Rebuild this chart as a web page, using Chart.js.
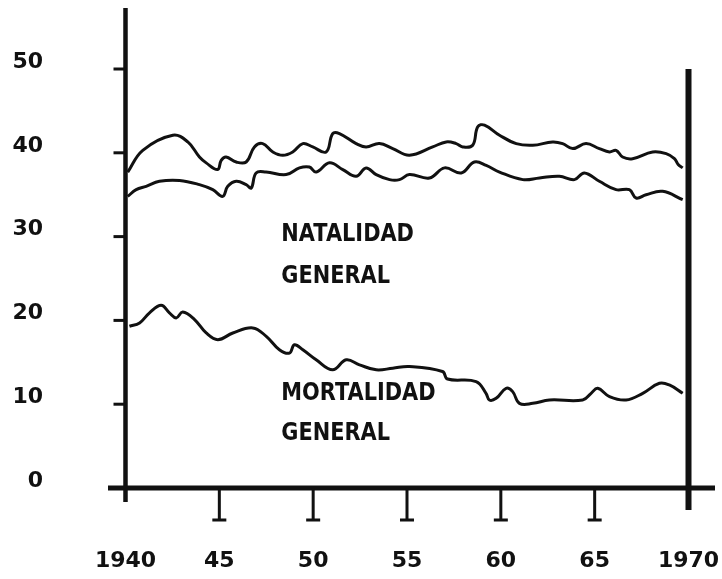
<!DOCTYPE html>
<html>
<head>
<meta charset="utf-8">
<script src="https://cdn.jsdelivr.net/npm/chart.js@4.4.1/dist/chart.umd.min.js"></script>
<style>
  html, body { margin: 0; padding: 0; background: #ffffff; }
  #wrap { width: 722px; height: 579px; }
</style>
</head>
<body>
<div id="wrap"><canvas id="c" width="722" height="579"></canvas></div>
<script>
// ---- data ----
const yTickValues = [0, 10, 20, 30, 40, 50];
const xTickYears = [1940, 1945, 1950, 1955, 1960, 1965, 1970];

const natalidadSupAnios = [1940.12,1940.92,1942.52,1943.32,1943.94,1944.30,1944.91,1945.10,1945.36,1945.90,1946.43,1946.87,1947.31,1947.85,1948.38,1948.91,1949.45,1949.98,1950.69,1951.04,1951.40,1952.29,1952.82,1953.53,1954.24,1955.13,1956.37,1957.09,1957.62,1957.97,1958.50,1958.77,1959.13,1959.93,1960.82,1961.70,1962.76,1963.29,1963.83,1964.54,1965.25,1965.79,1966.14,1966.49,1967.02,1968.09,1968.81,1969.25,1969.45,1969.69];
const natalidadSup = [37.7,40.3,42.1,41.3,39.5,38.8,38.0,39.1,39.5,38.9,38.9,40.7,41.1,40.1,39.7,40.1,41.1,40.7,40.1,42.3,42.3,41.1,40.7,41.1,40.5,39.7,40.7,41.3,41.1,40.7,40.9,43.1,43.3,42.1,41.1,40.9,41.3,41.1,40.5,41.1,40.5,40.1,40.3,39.5,39.3,40.1,39.9,39.3,38.6,38.2];

const natalidadInfAnios = [1940.12,1940.57,1941.10,1941.81,1942.88,1943.94,1944.65,1945.18,1945.45,1945.90,1946.43,1946.70,1946.96,1947.49,1948.56,1949.27,1949.80,1950.16,1950.87,1951.58,1952.29,1952.82,1953.36,1954.07,1954.60,1955.13,1956.20,1957.00,1957.89,1958.59,1959.22,1959.93,1961.17,1962.06,1963.12,1963.92,1964.45,1965.25,1966.14,1966.85,1967.21,1967.74,1968.62,1969.69];
const natalidadInf = [34.8,35.6,36.0,36.6,36.7,36.2,35.6,34.8,36.0,36.6,36.2,35.8,37.6,37.7,37.4,38.2,38.3,37.7,38.8,38.0,37.2,38.2,37.4,36.8,36.8,37.4,37.0,38.2,37.6,38.9,38.5,37.7,36.8,37.0,37.2,36.8,37.6,36.6,35.6,35.6,34.6,35.0,35.4,34.4];

const mortalidadAnios = [1940.21,1940.75,1941.28,1941.90,1942.34,1942.70,1943.05,1943.68,1944.30,1944.92,1945.72,1946.78,1947.50,1948.20,1948.74,1949.00,1949.45,1950.16,1951.04,1951.76,1952.47,1953.36,1954.24,1955.13,1956.89,1957.16,1958.68,1959.21,1959.39,1959.75,1960.28,1960.63,1960.99,1961.70,1962.59,1964.36,1964.81,1965.16,1965.79,1966.67,1967.56,1968.45,1968.98,1969.69];
const mortalidad = [19.3,19.7,20.9,21.8,20.9,20.3,21.0,20.1,18.5,17.7,18.5,19.1,18.1,16.5,16.1,17.1,16.5,15.3,14.1,15.3,14.7,14.1,14.3,14.5,13.9,13.0,12.7,11.3,10.5,10.7,11.9,11.5,10.1,10.1,10.5,10.5,11.3,11.9,10.9,10.5,11.3,12.5,12.3,11.3];

const annotationLines = [
  { text: 'NATALIDAD', year: 1948.3, value: 30.2 },
  { text: 'GENERAL', year: 1948.3, value: 25.2 },
  { text: 'MORTALIDAD', year: 1948.3, value: 11.3 },
  { text: 'GENERAL', year: 1948.3, value: 6.5 }
];

const toPoints = (xs, ys) => xs.map((x, i) => ({ x: x, y: ys[i] }));

const INK = '#111111';
const lineStyle = {
  borderColor: INK,
  borderWidth: 3,
  pointRadius: 0,
  tension: 0.4,
  fill: false
};

const axesPlugin = {
  id: 'handAxes',
  afterDatasetsDraw(chart) {
    const { ctx } = chart;
    const xs = chart.scales.x, ys = chart.scales.y;
    const x0 = xs.getPixelForValue(1940);
    const x1 = xs.getPixelForValue(1970);
    const y0 = ys.getPixelForValue(0);
    ctx.save();
    ctx.strokeStyle = INK;
    ctx.lineCap = 'butt';
    // left vertical axis
    ctx.lineWidth = 4.5;
    ctx.beginPath();
    ctx.moveTo(x0, ys.top);
    ctx.lineTo(x0, y0 + 14);
    ctx.stroke();
    // y tick marks
    ctx.lineWidth = 3;
    yTickValues.slice(1).forEach(v => {
      const y = ys.getPixelForValue(v);
      ctx.beginPath();
      ctx.moveTo(x0 - 12, y);
      ctx.lineTo(x0, y);
      ctx.stroke();
    });
    // horizontal axis
    ctx.lineWidth = 5;
    ctx.beginPath();
    ctx.moveTo(xs.left, y0);
    ctx.lineTo(xs.right, y0);
    ctx.stroke();
    // right vertical line at 1970
    ctx.lineWidth = 6;
    ctx.beginPath();
    ctx.moveTo(x1, ys.getPixelForValue(50));
    ctx.lineTo(x1, y0 + 22);
    ctx.stroke();
    // x tick marks (inverted T)
    ctx.lineWidth = 3;
    xTickYears.slice(1, -1).forEach(yr => {
      const x = xs.getPixelForValue(yr);
      ctx.beginPath();
      ctx.moveTo(x, y0);
      ctx.lineTo(x, y0 + 32);
      ctx.moveTo(x - 7, y0 + 32);
      ctx.lineTo(x + 7, y0 + 32);
      ctx.stroke();
    });
    // text annotations
    ctx.fillStyle = INK;
    ctx.font = 'bold 24px "DejaVu Sans"';
    ctx.textBaseline = 'middle';
    ctx.textAlign = 'left';
    annotationLines.forEach(a => {
      const x = xs.getPixelForValue(a.year);
      const y = ys.getPixelForValue(a.value);
      ctx.save();
      ctx.translate(x, y);
      ctx.scale(0.87, 1);
      ctx.fillText(a.text, 0, 0);
      ctx.restore();
    });
    ctx.restore();
  }
};

new Chart(document.getElementById('c'), {
  type: 'line',
  data: {
    datasets: [
      Object.assign({ label: 'Natalidad general (a)', data: toPoints(natalidadSupAnios, natalidadSup) }, lineStyle),
      Object.assign({ label: 'Natalidad general (b)', data: toPoints(natalidadInfAnios, natalidadInf) }, lineStyle),
      Object.assign({ label: 'Mortalidad general', data: toPoints(mortalidadAnios, mortalidad) }, lineStyle)
    ]
  },
  options: {
    responsive: false,
    animation: false,
    devicePixelRatio: 1,
    layout: { padding: { top: 8, right: 7, bottom: 0, left: 0 } },
    plugins: { legend: { display: false }, tooltip: { enabled: false } },
    scales: {
      x: {
        type: 'linear',
        min: 1939.0675,
        max: 1971.412,
        grid: { display: false, drawTicks: false },
        border: { display: false },
        afterBuildTicks: s => { s.ticks = xTickYears.map(v => ({ value: v })); },
        afterFit: s => { s.height = 91; s.paddingLeft = 0; s.paddingRight = 0; },
        ticks: {
          padding: 60,
          maxRotation: 0,
          autoSkip: false,
          color: INK,
          font: { family: 'DejaVu Sans', weight: 'bold', size: 22 },
          callback: v => (v === 1940 || v === 1970) ? String(v) : String(v).slice(2)
        }
      },
      y: {
        type: 'linear',
        min: 0,
        max: 57.28,
        grid: { display: false, drawTicks: false },
        border: { display: false },
        afterBuildTicks: s => { s.ticks = yTickValues.map(v => ({ value: v })); },
        afterFit: s => { s.width = 108; s.paddingTop = 0; s.paddingBottom = 0; },
        ticks: {
          padding: 65,
          labelOffset: -7,
          color: INK,
          font: { family: 'DejaVu Sans', weight: 'bold', size: 22 },
          callback: v => String(v)
        }
      }
    }
  },
  plugins: [axesPlugin]
});
</script>
</body>
</html>
